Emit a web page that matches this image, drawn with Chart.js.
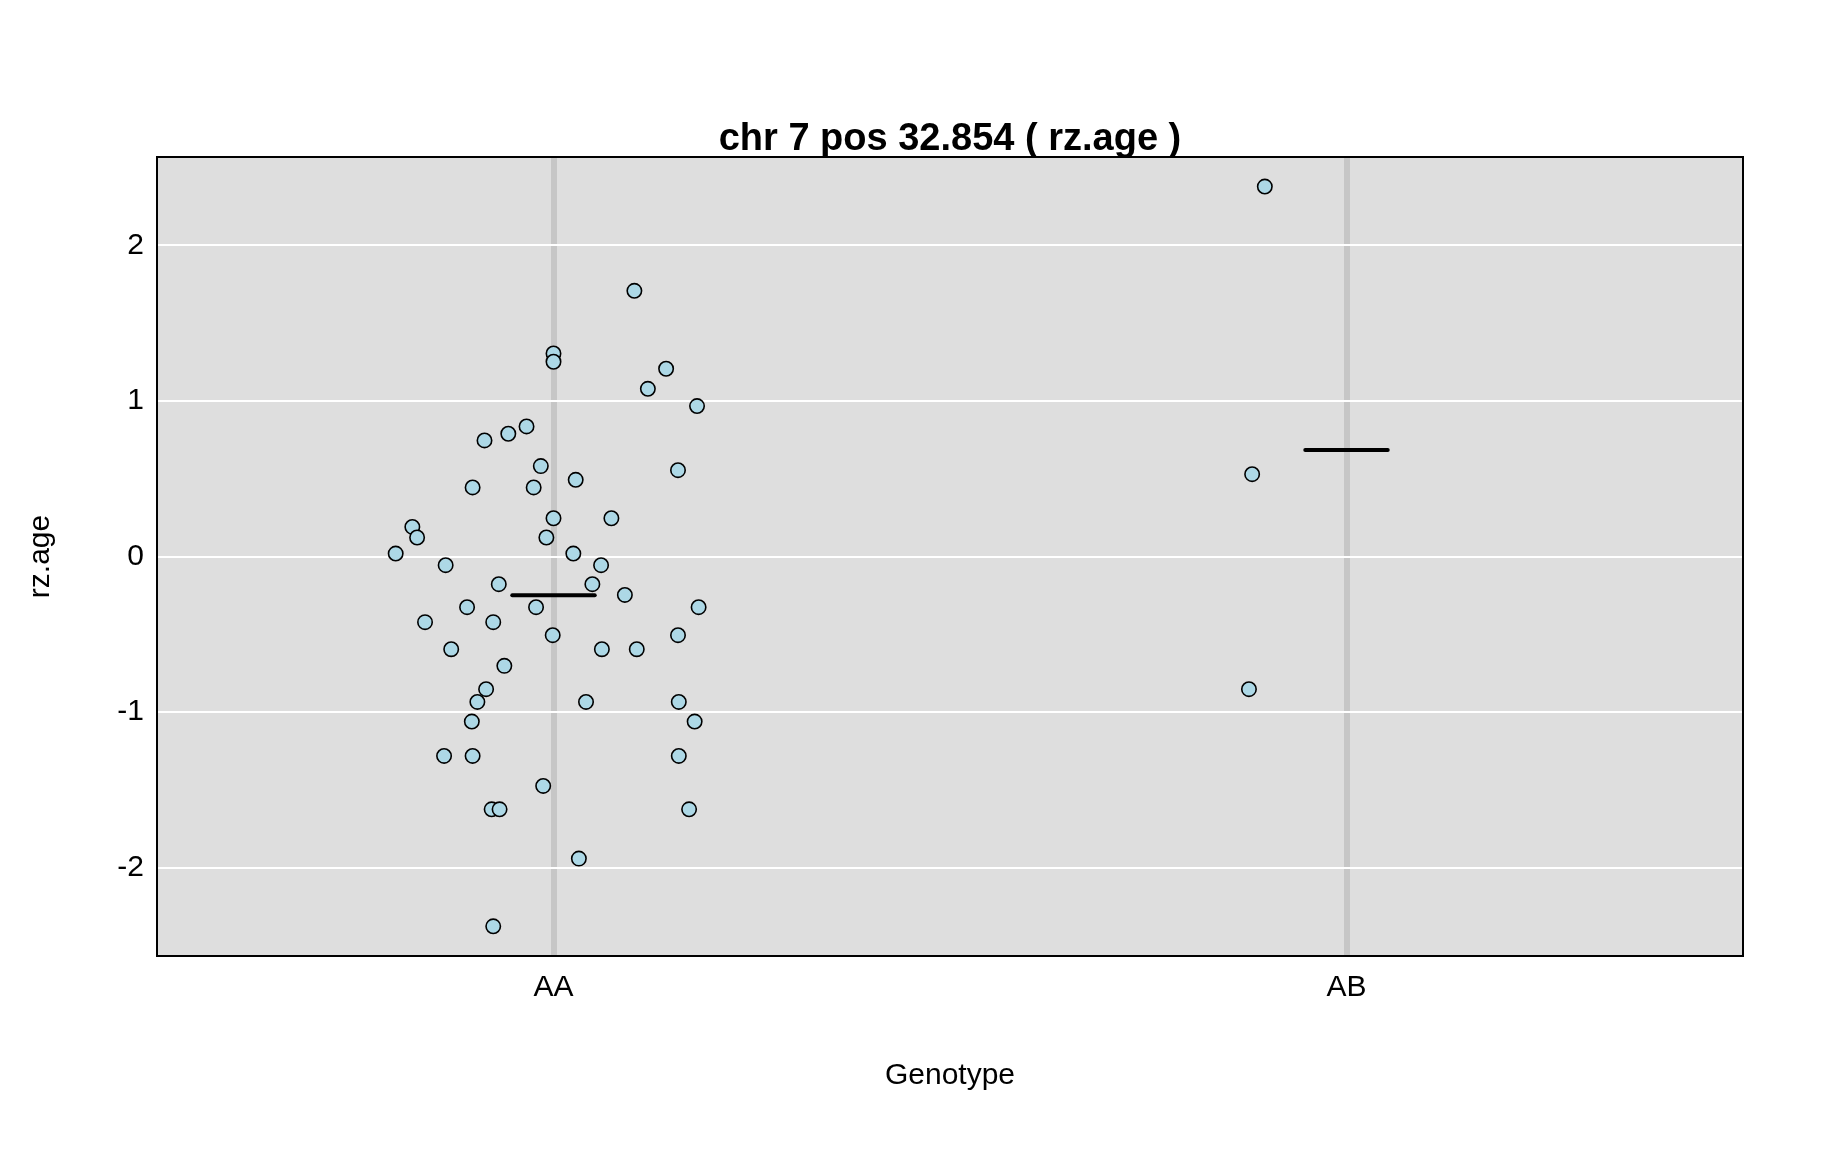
<!DOCTYPE html>
<html>
<head>
<meta charset="utf-8">
<script src="https://cdn.jsdelivr.net/npm/chart.js@4.4.1/dist/chart.umd.min.js"></script>
<style>
  html, body { margin: 0; padding: 0; background: #ffffff; }
  #wrap { width: 1824px; height: 1152px; }
</style>
</head>
<body>
<div id="wrap"><canvas id="plot" width="1824" height="1152"></canvas></div>
<script>
// categorias (genótipos) e posição no eixo x
var genotypes = ['AA', 'AB'];
var genoPos = [1, 2];

// valores rz.age, com o deslocamento horizontal (jitter) de cada ponto
var aaValues = [1.708, 1.305, 1.252, 1.207, 1.078, 0.967, 0.836, 0.789, 0.746, 0.581,
                0.555, 0.493, 0.444, 0.444, 0.246, 0.246, 0.190, 0.122, 0.122, 0.019,
                0.019, -0.056, -0.056, -0.178, -0.178, -0.247, -0.326, -0.326, -0.326, -0.422,
                -0.422, -0.506, -0.506, -0.596, -0.596, -0.596, -0.703, -0.853, -0.935, -0.935,
                -0.935, -1.061, -1.061, -1.282, -1.282, -1.282, -1.475, -1.625, -1.625, -1.625,
                -1.942, -2.377];
var aaJitter = [0.102, 0.000, 0.000, 0.142, 0.119, 0.181, -0.034, -0.057, -0.087, -0.016,
                0.157, 0.028, -0.102, -0.025, 0.000, 0.073, -0.178, -0.172, -0.009, -0.199,
                0.025, -0.136, 0.060, -0.069, 0.049, 0.090, -0.109, -0.022, 0.183, -0.162,
                -0.076, -0.001, 0.157, -0.129, 0.061, 0.105, -0.062, -0.085, -0.096, 0.041,
                0.158, -0.103, 0.178, -0.138, -0.102, 0.158, -0.013, -0.078, -0.068, 0.171,
                0.032, -0.076];
var abValues = [2.378, 0.529, -0.853];
var abJitter = [-0.103, -0.119, -0.123];

// ticks do eixo y
var yTicks = [-2, -1, 0, 1, 2];
var yMin = -2.568, yMax = 2.568;
var meanHalfWidth = 0.052;

var titleText = 'chr 7 pos 32.854 ( rz.age )';
var xTitle = 'Genotype';
var yTitle = 'rz.age';

function toPoints(pos, jitter, values) {
    var pts = [];
    for (var i = 0; i < values.length; i++) {
        pts.push({ x: pos + jitter[i], y: values[i] });
    }
    return pts;
}

function meanLine(pos, values) {
    var s = 0;
    for (var i = 0; i < values.length; i++) s += values[i];
    var m = s / values.length;
    return [{ x: pos - meanHalfWidth, y: m }, { x: pos + meanHalfWidth, y: m }];
}

// fundo cinza e moldura preta da área do gráfico
var panelPlugin = {
    id: 'panel',
    beforeDraw: function(chart) {
        var a = chart.chartArea, ctx = chart.ctx;
        ctx.save();
        ctx.fillStyle = '#dedede';
        ctx.fillRect(a.left, a.top, a.right - a.left, a.bottom - a.top);
        ctx.restore();
    },
    afterDraw: function(chart) {
        var a = chart.chartArea, ctx = chart.ctx;
        ctx.save();
        ctx.strokeStyle = '#000000';
        ctx.lineWidth = 2;
        ctx.strokeRect(a.left, a.top, a.right - a.left, a.bottom - a.top);
        ctx.restore();
    }
};

var font = "'Liberation Sans', Arial, Helvetica, sans-serif";

var ctx = document.getElementById('plot').getContext('2d');
var myChart = new Chart(ctx, {
    type: 'scatter',
    data: {
        datasets: [
            {
                label: 'AA mean',
                type: 'line',
                data: meanLine(genoPos[0], aaValues),
                borderColor: '#000000',
                borderWidth: 4,
                borderCapStyle: 'round',
                pointRadius: 0,
                fill: false,
                order: 1
            },
            {
                label: 'AB mean',
                type: 'line',
                data: meanLine(genoPos[1], abValues),
                borderColor: '#000000',
                borderWidth: 4,
                borderCapStyle: 'round',
                pointRadius: 0,
                fill: false,
                order: 1
            },
            {
                label: 'AA',
                data: toPoints(genoPos[0], aaJitter, aaValues),
                backgroundColor: '#add8e6',
                borderColor: '#000000',
                borderWidth: 1.6,
                pointRadius: 7.2,
                order: 0
            },
            {
                label: 'AB',
                data: toPoints(genoPos[1], abJitter, abValues),
                backgroundColor: '#add8e6',
                borderColor: '#000000',
                borderWidth: 1.6,
                pointRadius: 7.2,
                order: 0
            }
        ]
    },
    options: {
        responsive: false,
        animation: false,
        events: [],
        layout: { padding: { left: 0, right: 81, top: 0, bottom: 0 } },
        plugins: {
            legend: { display: false },
            tooltip: { enabled: false },
            title: {
                display: true,
                text: titleText,
                fullSize: false,
                color: '#000000',
                font: { family: font, size: 38, weight: 'bold', lineHeight: 0.9 },
                padding: { top: 122.8, bottom: 0 }
            }
        },
        scales: {
            x: {
                type: 'linear',
                min: 0.5,
                max: 2.5,
                afterBuildTicks: function(scale) {
                    scale.ticks = genoPos.map(function(v) { return { value: v }; });
                },
                afterFit: function(scale) { scale.height = 196; },
                ticks: {
                    color: '#000000',
                    font: { family: font, size: 30 },
                    padding: 14,
                    maxRotation: 0,
                    callback: function(v) {
                        var i = genoPos.indexOf(v);
                        return i >= 0 ? genotypes[i] : '';
                    }
                },
                grid: { color: '#c6c6c6', lineWidth: 6, drawTicks: false },
                border: { display: false },
                title: {
                    display: true,
                    text: xTitle,
                    color: '#000000',
                    font: { family: font, size: 30 },
                    padding: { top: 0, bottom: 58 }
                }
            },
            y: {
                type: 'linear',
                min: yMin,
                max: yMax,
                afterBuildTicks: function(scale) {
                    scale.ticks = yTicks.map(function(v) { return { value: v }; });
                },
                afterFit: function(scale) { scale.width = 157; },
                ticks: {
                    color: '#000000',
                    font: { family: font, size: 30 },
                    padding: 13,
                    callback: function(v) { return String(v); }
                },
                grid: { color: '#ffffff', lineWidth: 2, drawTicks: false },
                border: { display: false },
                title: {
                    display: true,
                    text: yTitle,
                    color: '#000000',
                    font: { family: font, size: 30 },
                    padding: { top: 23, bottom: 0 }
                }
            }
        }
    },
    plugins: [panelPlugin]
});
</script>
</body>
</html>
